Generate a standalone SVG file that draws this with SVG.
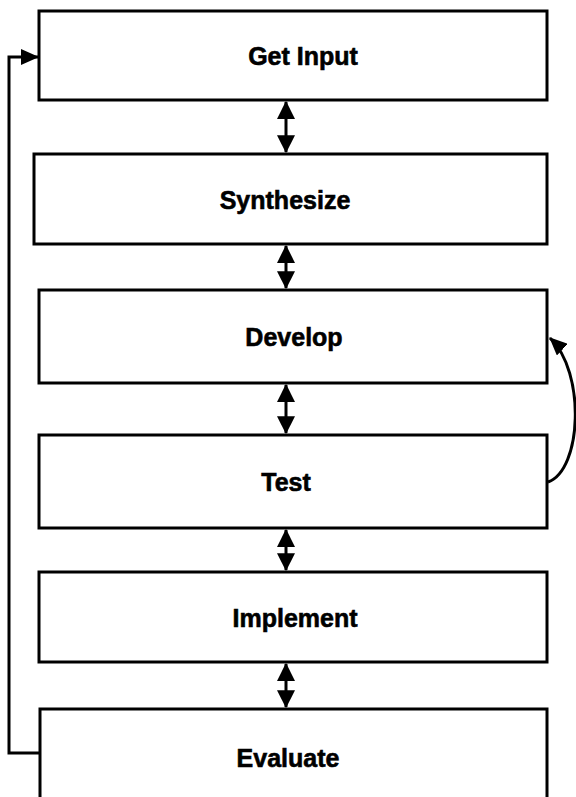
<svg xmlns="http://www.w3.org/2000/svg" width="576" height="797" viewBox="0 0 576 797">
<style>
.box{fill:#fff;stroke:#000;stroke-width:3}
.lbl{font-family:"Liberation Sans",Arial,sans-serif;font-weight:bold;font-size:25px;text-anchor:middle;fill:#000;stroke:#000;stroke-width:0.6}
.conn{fill:none;stroke:#000;stroke-width:3}
.thin{fill:none;stroke:#000;stroke-width:3}
</style>
<defs>
<marker id="ah" markerUnits="userSpaceOnUse" markerWidth="18" markerHeight="18" viewBox="0 0 16 16" refX="15" refY="8" orient="auto-start-reverse">
<path d="M0,0 L16,8 L0,16 Z" fill="#000"/>
</marker>
<marker id="ahs" markerUnits="userSpaceOnUse" markerWidth="18" markerHeight="16" viewBox="0 0 18 16" refX="17" refY="8" orient="auto">
<path d="M0,0 L18,8 L0,16 Z" fill="#000"/>
</marker>
</defs>
<g id="n1"><rect class="box" x="39" y="11" width="508" height="89"/><text class="lbl" x="303" y="65">Get Input</text></g>
<g id="n2"><rect class="box" x="34" y="154" width="513" height="90"/><text class="lbl" x="285" y="209">Synthesize</text></g>
<g id="n3"><rect class="box" x="39" y="290" width="508" height="93"/><text class="lbl" x="294" y="346">Develop</text></g>
<g id="n4"><rect class="box" x="39" y="435" width="508" height="93"/><text class="lbl" x="286" y="491">Test</text></g>
<g id="n5"><rect class="box" x="39" y="572" width="508" height="90"/><text class="lbl" x="295" y="627">Implement</text></g>
<g id="n6"><rect class="box" x="40" y="709" width="507" height="100"/><text class="lbl" x="288" y="767">Evaluate</text></g>
<g id="connectors">
<line class="conn" x1="286" y1="102" x2="286" y2="152" marker-start="url(#ah)" marker-end="url(#ah)"/>
<line class="conn" x1="286" y1="246" x2="286" y2="288" marker-start="url(#ah)" marker-end="url(#ah)"/>
<line class="conn" x1="286" y1="385" x2="286" y2="433" marker-start="url(#ah)" marker-end="url(#ah)"/>
<line class="conn" x1="286" y1="530" x2="286" y2="570" marker-start="url(#ah)" marker-end="url(#ah)"/>
<line class="conn" x1="286" y1="664" x2="286" y2="707" marker-start="url(#ah)" marker-end="url(#ah)"/>
<path class="thin" d="M40,753 H9 V57 H38" marker-end="url(#ahs)"/>
<path class="thin" d="M548,482 C582,470 586,372 550,338" marker-end="url(#ahs)"/>
</g>
</svg>
